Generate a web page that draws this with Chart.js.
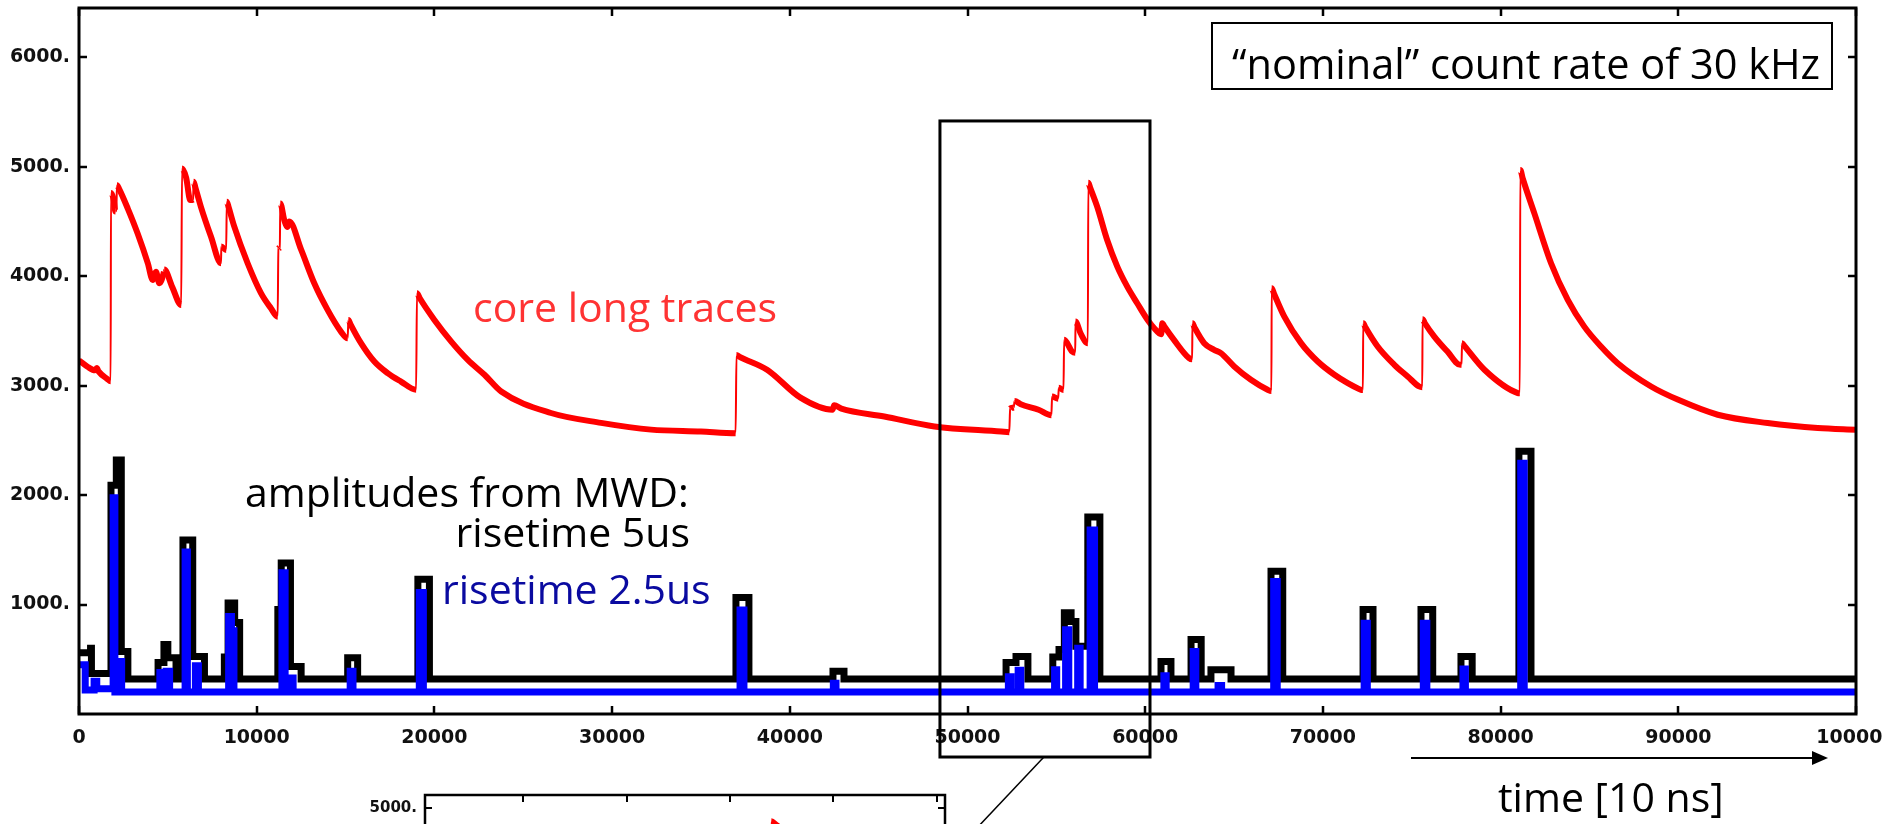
<!DOCTYPE html>
<html>
<head>
<meta charset="utf-8">
<title>Core traces and MWD amplitudes at 30 kHz</title>
<script src="https://cdn.jsdelivr.net/npm/chart.js@4.4.0/dist/chart.umd.min.js"></script>
<style>
  html, body { margin: 0; padding: 0; background: #fff; overflow: hidden; }
  #wrap { position: relative; width: 1882px; height: 824px; overflow: hidden; background: #fff; }
  #mainChart { position: absolute; left: 0; top: 0; }
  #zoomChart { position: absolute; left: 360px; top: 785px; }
</style>
</head>
<body>
<div id="wrap">
  <canvas id="mainChart" width="1882" height="824"></canvas>
  <canvas id="zoomChart" width="600" height="400"></canvas>
</div>
<script>
// Axis ticks
const yTicks = [1000, 2000, 3000, 4000, 5000, 6000];
const xTicks = [0, 10000, 20000, 30000, 40000, 50000, 60000, 70000, 80000, 90000, 100000];
const zoomXTicks = [52000, 54000, 56000, 58000, 60000];
const zoomYTicks = [2000, 3000, 4000, 5000];

// Core long trace (red), [time, amplitude]
const coreTrace = [
  [0, 3230], [500, 3170], [900, 3140], [1000, 3160], [1100, 3130], [1600, 3060], [1780, 3040],
  [1800, 4760], [1950, 4700], [2050, 4590], [2100, 4610], [2140, 4830], [2250, 4800],
  [2740, 4620], [3300, 4390], [3870, 4120], [4150, 3965], [4330, 4040], [4520, 3935],
  [4780, 4040], [4800, 4060], [5250, 3900], [5750, 3737],
  [5800, 4984], [6030, 4900], [6260, 4695], [6420, 4700], [6450, 4862], [6550, 4810],
  [6860, 4634], [7430, 4360], [7990, 4118], [8010, 4270], [8280, 4240], [8320, 4680], [8420, 4630],
  [8740, 4452], [9490, 4118], [10240, 3845], [10800, 3707], [11180, 3630],
  [11220, 4254], [11300, 4260], [11330, 4665], [11550, 4513], [11740, 4450], [11830, 4500],
  [12500, 4242], [13240, 3935], [13990, 3692], [14740, 3494], [15120, 3433],
  [15160, 3600], [15280, 3560], [15870, 3388], [16620, 3220], [17370, 3114], [18120, 3037], [18970, 2962],
  [19020, 3844], [19170, 3800], [20000, 3600], [20950, 3402], [21880, 3235], [22820, 3099], [23760, 2946],
  [26560, 2750], [29380, 2660], [32190, 2598], [35000, 2581], [36950, 2566],
  [37000, 3280], [37150, 3265], [38720, 3145], [40600, 2890], [42400, 2780], [42500, 2820], [42900, 2790],
  [45320, 2718], [48140, 2627], [51890, 2581], [52350, 2575],
  [52400, 2790], [52600, 2800], [52650, 2860], [53000, 2830], [54000, 2780], [54720, 2730],
  [54760, 2900], [55100, 2880], [55140, 2980], [55400, 2960], [55440, 3418], [55890, 3311],
  [56060, 3300], [56080, 3585], [56360, 3479], [56770, 3388],
  [56800, 4853], [56900, 4810], [57300, 4634], [57860, 4330], [58430, 4087], [58990, 3904], [59550, 3753],
  [60140, 3600], [60510, 3524], [60900, 3470], [60960, 3570], [61080, 3540], [61620, 3418], [62470, 3251],
  [62640, 3240], [62660, 3570], [62780, 3530], [63320, 3388], [63880, 3327], [64260, 3297], [65010, 3175],
  [65950, 3053], [66890, 2962], [67100, 2950],
  [67120, 3890], [67250, 3840], [67830, 3630], [68770, 3388], [69710, 3220], [70650, 3099], [71400, 3023],
  [72150, 2962], [72250, 2960], [72270, 3570], [72400, 3530], [73080, 3357], [74020, 3190], [74770, 3083],
  [75420, 2992], [75590, 2985], [75610, 3607], [75740, 3570], [76270, 3448], [77010, 3311], [77730, 3190],
  [77800, 3190], [77830, 3388], [77950, 3365], [79090, 3145], [80970, 2932], [81080, 2930],
  [81110, 4969], [81250, 4890], [81900, 4574], [82840, 4118], [83780, 3783], [84710, 3539], [85650, 3357],
  [86590, 3205], [88470, 2992], [90000, 2870], [92220, 2734], [95030, 2658], [97850, 2612],
  [100000, 2597]
];

// MWD amplitudes, risetime 5us (black); each value holds until the next time
const mwd5us = [
  [0, 560], [650, 600], [700, 370], [1800, 2090], [2100, 2320], [2380, 570], [2750, 320],
  [4450, 470], [4780, 635], [5000, 515], [5460, 320], [5850, 1590], [6400, 525], [7060, 320],
  [8180, 520], [8390, 1015], [8760, 835], [9040, 320],
  [11190, 955], [11380, 1380], [11900, 435], [12500, 320],
  [15120, 515], [15680, 320],
  [19070, 1230], [19720, 320],
  [36970, 1065], [37700, 320],
  [42430, 390], [43050, 320],
  [52170, 470], [52730, 525], [53400, 320],
  [54800, 520], [55150, 590], [55450, 925], [55830, 845], [56100, 620], [56770, 1800], [57450, 320],
  [60890, 480], [61450, 320],
  [62580, 680], [63150, 320],
  [63700, 405], [64830, 320],
  [67080, 1305], [67740, 320],
  [72260, 955], [72820, 320],
  [75520, 955], [76180, 320],
  [77770, 525], [78400, 320],
  [81030, 2400], [81710, 320],
  [100000, 320]
];

// MWD amplitudes, risetime 2.5us (blue)
const mwd25us = [
  [0, 450], [350, 220], [850, 300], [1000, 230], [1920, 1975], [2020, 200], [2300, 480], [2400, 200],
  [4550, 380], [4650, 200], [4900, 390], [5100, 200], [5970, 1480], [6100, 200], [6550, 440], [6720, 200],
  [8420, 890], [8580, 760], [8720, 200],
  [11420, 1290], [11600, 200], [11950, 330], [12050, 200],
  [15260, 390], [15420, 200],
  [19150, 1110], [19380, 200],
  [37200, 950], [37420, 200],
  [42450, 280], [42600, 200],
  [52300, 340], [52450, 200], [52850, 400], [53000, 200],
  [54900, 405], [55020, 200], [55520, 770], [55700, 200], [56200, 600], [56340, 200],
  [56900, 1680], [57150, 200],
  [61050, 350], [61180, 200],
  [62700, 570], [62850, 200],
  [64100, 260], [64300, 200],
  [67230, 1210], [67430, 200],
  [72320, 830], [72500, 200],
  [75650, 830], [75850, 200],
  [77880, 410], [78020, 200],
  [81130, 2290], [81330, 200],
  [100000, 200]
];

const tickFont = { family: 'DejaVu Sans', weight: 'bold', size: 19 };
const zoomTickFont = { family: 'DejaVu Sans', weight: 'bold', size: 15 };

function toPoints(list) {
  return list.map(([x, y]) => ({ x, y }));
}

// rising edges of the core trace are drawn thin, the decays thick
function coreSegment(wide) {
  return {
    borderWidth: c => (coreTrace[c.p1DataIndex][0] - coreTrace[c.p0DataIndex][0] <= 50 ? 2 : wide)
  };
}

// keep the plot area exactly where the layout puts it
function noScalePadding(s) {
  s.paddingLeft = 0;
  s.paddingRight = 0;
  s.paddingTop = 0;
  s.paddingBottom = 0;
}

// frame with inward ticks on all four sides
const frameTicks = {
  id: 'frameTicks',
  afterDatasetsDraw(chart, args, opts) {
    const { ctx, chartArea: a } = chart;
    const xs = chart.scales.x, ys = chart.scales.y;
    ctx.save();
    ctx.strokeStyle = '#000';
    ctx.lineWidth = opts.tickWidth;
    ctx.beginPath();
    xs.ticks.forEach(t => {
      const px = Math.round(xs.getPixelForValue(t.value));
      ctx.moveTo(px, a.top); ctx.lineTo(px, a.top + opts.tickLength);
      ctx.moveTo(px, a.bottom); ctx.lineTo(px, a.bottom - opts.tickLength);
    });
    ys.ticks.forEach(t => {
      const py = Math.round(ys.getPixelForValue(t.value));
      ctx.moveTo(a.left, py); ctx.lineTo(a.left + opts.tickLength, py);
      ctx.moveTo(a.right, py); ctx.lineTo(a.right - opts.tickLength, py);
    });
    ctx.stroke();
    ctx.lineWidth = opts.frameWidth;
    ctx.strokeRect(a.left, a.top, a.right - a.left, a.bottom - a.top);
    ctx.restore();
  }
};

// zoom window, text labels and the time arrow
const annotations = {
  id: 'annotations',
  afterDraw(chart, args, opts) {
    const { ctx } = chart;
    const xs = chart.scales.x, ys = chart.scales.y;
    const w = opts.zoomWindow;
    ctx.save();
    ctx.strokeStyle = '#000';

    const l = xs.getPixelForValue(w.from), r = xs.getPixelForValue(w.to);
    const t = ys.getPixelForValue(w.high), b = ys.getPixelForValue(w.low);
    ctx.lineWidth = 3;
    ctx.strokeRect(l, t, r - l, b - t);
    ctx.lineWidth = 1.5;
    ctx.beginPath();
    ctx.moveTo(xs.getPixelForValue(w.linkFrom[0]), ys.getPixelForValue(w.linkFrom[1]));
    ctx.lineTo(xs.getPixelForValue(w.linkTo[0]), ys.getPixelForValue(w.linkTo[1]));
    ctx.stroke();

    ctx.textBaseline = 'alphabetic';
    opts.labels.forEach(n => {
      ctx.font = n.size + 'px "Open Sans"';
      ctx.fillStyle = n.color;
      ctx.textAlign = n.align || 'left';
      ctx.fillText(n.text, n.x, n.y);
    });

    const box = opts.rateBox;
    ctx.lineWidth = 2;
    ctx.strokeRect(box.x, box.y, box.w, box.h);

    const ar = opts.arrow;
    ctx.lineWidth = 2;
    ctx.beginPath();
    ctx.moveTo(ar.x0, ar.y);
    ctx.lineTo(ar.x1 - 10, ar.y);
    ctx.stroke();
    ctx.fillStyle = '#000';
    ctx.beginPath();
    ctx.moveTo(ar.x1, ar.y);
    ctx.lineTo(ar.x1 - 16, ar.y - 7);
    ctx.lineTo(ar.x1 - 16, ar.y + 7);
    ctx.closePath();
    ctx.fill();
    ctx.restore();
  }
};

new Chart(document.getElementById('mainChart'), {
  type: 'line',
  data: {
    datasets: [
      {
        label: 'core long traces',
        data: toPoints(coreTrace),
        borderColor: '#ff0000',
        borderWidth: 6,
        cubicInterpolationMode: 'monotone',
        segment: coreSegment(6),
        order: 0
      },
      {
        label: 'risetime 2.5us',
        data: toPoints(mwd25us),
        borderColor: '#0000ff',
        borderWidth: 7,
        stepped: true,
        order: 1
      },
      {
        label: 'risetime 5us',
        data: toPoints(mwd5us),
        borderColor: '#000000',
        borderWidth: 7,
        stepped: true,
        order: 2
      }
    ]
  },
  options: {
    responsive: false,
    animation: false,
    layout: { autoPadding: false, padding: { top: 8, right: 26, bottom: 0, left: 0 } },
    elements: {
      point: { radius: 0 },
      line: { tension: 0, borderJoinStyle: 'miter', borderCapStyle: 'butt', fill: false }
    },
    scales: {
      x: {
        type: 'linear',
        min: 0,
        max: 100000,
        afterBuildTicks: s => { s.ticks = xTicks.map(v => ({ value: v })); },
        afterFit: s => { s.height = 110; noScalePadding(s); },
        grid: { display: false, drawTicks: false },
        border: { display: false },
        ticks: {
          autoSkip: false,
          maxRotation: 0,
          padding: 13,
          color: '#111',
          font: tickFont,
          callback: v => String(v)
        }
      },
      y: {
        type: 'linear',
        min: 0,
        max: 6450,
        afterBuildTicks: s => { s.ticks = yTicks.map(v => ({ value: v })); },
        afterFit: s => { s.width = 79; noScalePadding(s); },
        grid: { display: false, drawTicks: false },
        border: { display: false },
        ticks: {
          padding: 9,
          color: '#111',
          font: tickFont,
          callback: v => v + '.'
        }
      }
    },
    plugins: {
      legend: { display: false },
      tooltip: { enabled: false },
      frameTicks: { tickLength: 8, tickWidth: 2.5, frameWidth: 3 },
      annotations: {
        zoomWindow: { from: 48450, to: 60270, high: 5418, low: -393, linkFrom: [54300, -393], linkTo: [49900, -1150] },
        rateBox: { x: 1212, y: 23, w: 620, h: 66 },
        arrow: { x0: 1411, x1: 1828, y: 758 },
        labels: [
          { text: 'core long traces', x: 473, y: 322, color: '#ff3333', size: 41 },
          { text: 'amplitudes from MWD:', x: 245, y: 507, color: '#000', size: 41 },
          { text: 'risetime 5us', x: 690, y: 547, color: '#000', size: 41, align: 'right' },
          { text: 'risetime 2.5us', x: 442, y: 604, color: '#0a0aa0', size: 41 },
          { text: '\u201cnominal\u201d count rate of 30 kHz', x: 1232, y: 79, color: '#000', size: 41.5 },
          { text: 'time [10 ns]', x: 1498, y: 812, color: '#000', size: 41 }
        ]
      }
    }
  },
  plugins: [frameTicks, annotations]
});

// magnified view of the 50000-60000 window
new Chart(document.getElementById('zoomChart'), {
  type: 'line',
  data: {
    datasets: [{
      label: 'core long traces',
      data: toPoints(coreTrace),
      borderColor: '#ff0000',
      borderWidth: 5,
      cubicInterpolationMode: 'monotone',
      segment: coreSegment(5)
    }]
  },
  options: {
    responsive: false,
    animation: false,
    layout: { autoPadding: false, padding: { top: 10, right: 15, bottom: 0, left: 0 } },
    elements: {
      point: { radius: 0 },
      line: { tension: 0, borderJoinStyle: 'miter', fill: false }
    },
    scales: {
      x: {
        type: 'linear',
        min: 50106,
        max: 60155,
        afterBuildTicks: s => { s.ticks = zoomXTicks.map(v => ({ value: v })); },
        afterFit: s => { s.height = 40; noScalePadding(s); },
        grid: { display: false, drawTicks: false },
        border: { display: false },
        ticks: { autoSkip: false, maxRotation: 0, color: '#111', font: zoomTickFont }
      },
      y: {
        type: 'linear',
        min: 1113,
        max: 5150,
        afterBuildTicks: s => { s.ticks = zoomYTicks.map(v => ({ value: v })); },
        afterFit: s => { s.width = 65; noScalePadding(s); },
        grid: { display: false, drawTicks: false },
        border: { display: false },
        ticks: {
          padding: 8,
          color: '#111',
          font: zoomTickFont,
          callback: v => v + '.'
        }
      }
    },
    plugins: {
      legend: { display: false },
      tooltip: { enabled: false },
      frameTicks: { tickLength: 7, tickWidth: 2, frameWidth: 2.5 }
    }
  },
  plugins: [frameTicks]
});
</script>
</body>
</html>
